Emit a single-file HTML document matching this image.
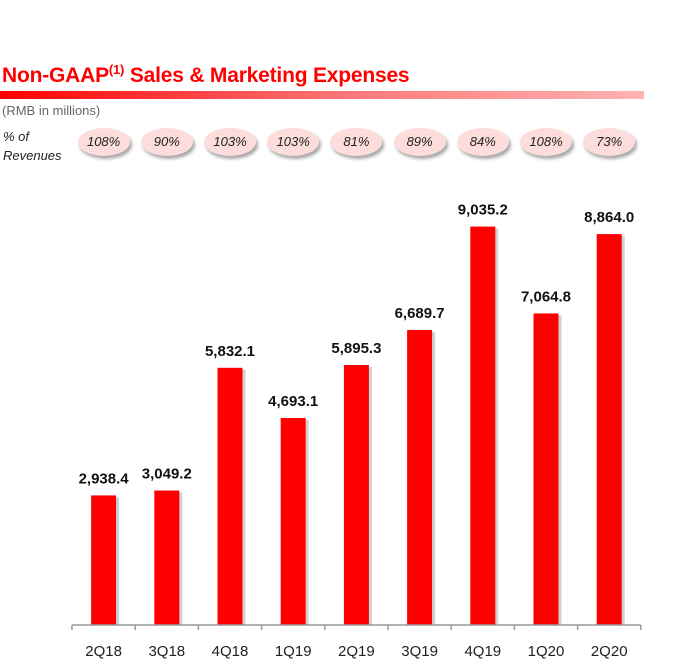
<!DOCTYPE html>
<html><head><meta charset="utf-8"><style>
body{margin:0;background:#fff;font-family:"Liberation Sans",sans-serif;}
#wrap{position:relative;width:693px;height:672px;overflow:hidden;}
.title{position:absolute;left:2px;top:62px;font-size:21px;font-weight:bold;color:#f00;letter-spacing:-0.2px;}
.title sup{font-size:13px;vertical-align:8px;}
.rule{position:absolute;left:0;top:91px;width:644px;height:8px;background:linear-gradient(90deg,#f00,#ff7a7a 55%,#ffb3b3);}
.sub{position:absolute;left:2px;top:103px;font-size:13px;color:#666;}
.pct{position:absolute;left:3px;top:127px;font-size:13px;font-style:italic;color:#222;line-height:19px;}
.pill{position:absolute;top:128px;width:52px;height:28px;border-radius:50%;background:#fddcdc;box-shadow:2px 3px 3px rgba(0,0,0,0.35);font-size:13px;font-style:italic;color:#222;text-align:center;line-height:28px;}
</style></head><body>
<div id="wrap">
<div class="title">Non-GAAP<sup>(1)</sup> Sales &amp; Marketing Expenses</div>
<div class="rule"></div>
<div class="sub">(RMB in millions)</div>
<div class="pct">% of<br>Revenues</div>
<div id="pills"></div>
<svg id="chart" width="693" height="672" style="position:absolute;left:0;top:0"></svg>
</div>
<script>
const categories=["2Q18","3Q18","4Q18","1Q19","2Q19","3Q19","4Q19","1Q20","2Q20"];
const values=[2938.4,3049.2,5832.1,4693.1,5895.3,6689.7,9035.2,7064.8,8864.0];
const valueLabels=["2,938.4","3,049.2","5,832.1","4,693.1","5,895.3","6,689.7","9,035.2","7,064.8","8,864.0"];
const percents=["108%","90%","103%","103%","81%","89%","84%","108%","73%"];
const x0=72,step=63.2,y0=625,k=0.0441,bw=25;
const xc=i=>x0+step*(i+0.5);
const yv=v=>y0-v*k;
const svg=document.getElementById('chart');
const NS='http://www.w3.org/2000/svg';
function mk(t,a){const e=document.createElementNS(NS,t);for(const n in a)e.setAttribute(n,a[n]);svg.appendChild(e);return e;}
const pills=document.getElementById('pills');
categories.forEach((c,i)=>{
 const sh=mk('rect',{x:xc(i)-bw/2+3,y:yv(values[i])+2,width:bw,height:values[i]*k-2,fill:'rgba(0,0,0,0.18)'});
 
 
 const r=mk('rect',{x:xc(i)-bw/2,y:yv(values[i]),width:bw,height:values[i]*k,fill:'#ff0000'});
 
 
 const t=mk('text',{x:xc(i),y:yv(values[i])-12,'text-anchor':'middle','font-size':'15','font-weight':'bold',fill:'#111','font-family':'Liberation Sans'});
 t.textContent=valueLabels[i];
 
 
 const l=mk('text',{x:xc(i),y:656,'text-anchor':'middle','font-size':'15',fill:'#222','font-family':'Liberation Sans'});
 l.textContent=c;
 
 
 const p=document.createElement('div');
 p.className='pill';p.style.left=(xc(i)-26)+'px';p.textContent=percents[i];
 
 
 pills.appendChild(p);
});
const ax=mk('line',{x1:x0,y1:y0,x2:x0+step*categories.length,y2:y0,stroke:'#999','stroke-width':1.5});


for(let i=0;i<=categories.length;i++){
 const tk=mk('line',{x1:x0+step*i,y1:y0,x2:x0+step*i,y2:y0+5,stroke:'#999','stroke-width':1.5});
 
 
}
</script>
</body></html>
